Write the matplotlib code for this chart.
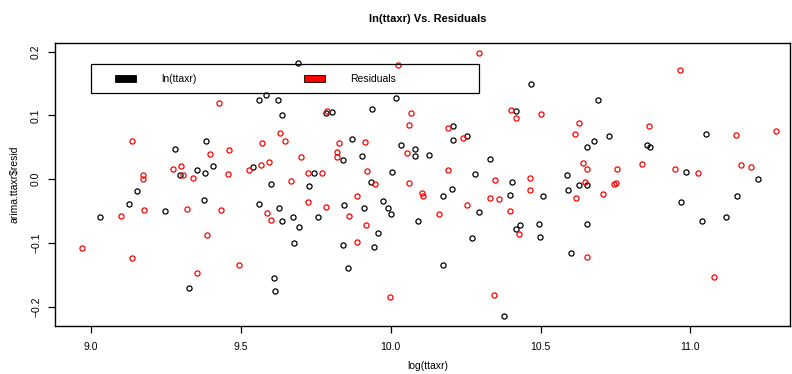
import matplotlib
matplotlib.use("Agg")
import matplotlib.pyplot as plt
from matplotlib.patches import Rectangle

plt.rcParams['font.family'] = ['Liberation Sans', 'DejaVu Sans']

title = "ln(ttaxr) Vs. Residuals"
xlabel = "log(ttaxr)"
ylabel = "arima.ttaxr$resid"
legend_labels = ["ln(ttaxr)", "Residuals"]
xticks = [9.0, 9.5, 10.0, 10.5, 11.0]
yticks = [-0.2, -0.1, 0.0, 0.1, 0.2]

black_x = [9.280, 9.384, 9.298, 9.355, 9.380, 9.153, 9.127, 9.031, 9.247, 9.378,
           9.326, 9.690, 9.560, 9.585, 9.625, 9.638, 9.785, 9.805, 9.872, 9.840,
           9.904, 9.406, 9.540, 9.602, 9.745, 9.727, 9.562, 9.627, 9.636, 9.675,
           9.695, 9.756, 9.843, 9.677, 9.842, 9.858, 9.612, 9.615, 10.016, 9.939,
           10.208, 10.255, 10.208, 10.033, 10.081, 10.082, 10.127, 10.003, 9.933, 10.332,
           10.282, 10.205, 10.176, 10.397, 10.296, 9.973, 9.990, 9.911, 10.002, 10.090,
           9.959, 9.944, 10.270, 10.175, 10.377, 10.468, 10.693, 10.417, 10.679, 10.727,
           10.656, 10.856, 10.864, 10.587, 10.406, 10.507, 10.593, 10.627, 10.654, 10.432,
           10.417, 10.494, 10.497, 10.656, 10.602, 11.051, 10.985, 11.226, 11.155, 10.967,
           11.117, 11.038]
black_y = [0.048, 0.0605, 0.0072, 0.014, 0.010, -0.018, -0.038, -0.059, -0.0497, -0.032,
           -0.170, 0.183, 0.125, 0.132, 0.125, 0.100, 0.1034, 0.106, 0.0636, 0.031,
           0.0365, 0.0213, 0.0198, -0.0069, 0.0094, -0.0105, -0.039, -0.0445, -0.0648, -0.059,
           -0.075, -0.0596, -0.040, -0.0998, -0.1025, -0.1395, -0.154, -0.175, 0.1274, 0.1107,
           0.084, 0.068, 0.062, 0.0538, 0.047, 0.036, 0.038, 0.011, -0.0037, 0.0318,
           0.0078, -0.0147, -0.026, -0.024, -0.051, -0.0345, -0.045, -0.045, -0.055, -0.065,
           -0.0837, -0.1056, -0.0915, -0.134, -0.2147, 0.149, 0.125, 0.107, 0.060, 0.0683,
           0.050, 0.054, 0.050, 0.0072, -0.0047, -0.0257, -0.0168, -0.0085, -0.0085, -0.071,
           -0.078, -0.070, -0.090, -0.070, -0.115, 0.0705, 0.011, 0.0005, -0.0257, -0.0356,
           -0.0586, -0.066]

red_x = [9.136, 9.398, 9.274, 9.301, 9.308, 9.341, 9.172, 9.175, 9.099, 9.178,
         9.319, 9.388, 8.971, 9.138, 9.354, 9.427, 9.789, 9.632, 9.646, 9.570,
         9.460, 9.827, 9.821, 9.821, 9.702, 9.457, 9.528, 9.568, 9.595, 9.668,
         9.725, 9.770, 9.889, 9.433, 9.586, 9.602, 9.725, 9.783, 9.862, 9.887,
         9.493, 10.294, 10.025, 10.066, 10.060, 10.190, 10.240, 10.401, 9.915, 10.054,
         9.920, 9.947, 10.061, 10.192, 10.348, 10.105, 10.108, 10.330, 10.360, 10.256,
         10.398, 10.161, 9.918, 9.999, 10.344, 10.417, 10.502, 10.627, 10.615, 10.863,
         10.643, 10.654, 10.754, 10.837, 10.465, 10.466, 10.647, 10.744, 10.752, 10.617,
         10.708, 10.428, 10.654, 10.964, 11.151, 11.285, 10.947, 11.024, 11.167, 11.201,
         11.078]
red_y = [0.0605, 0.040, 0.0157, 0.021, 0.0067, 0.0015, 0.006, 0.000, -0.057, -0.048,
         -0.046, -0.088, -0.107, -0.123, -0.147, 0.120, 0.1075, 0.0726, 0.060, 0.0564,
         0.0455, 0.0574, 0.0433, 0.0345, 0.0345, 0.0088, 0.0146, 0.0224, 0.0266, -0.0027,
         0.0094, 0.0094, -0.0257, -0.0486, -0.0533, -0.0638, -0.035, -0.043, -0.057, -0.0988,
         -0.134, 0.1975, 0.1796, 0.104, 0.0846, 0.080, 0.0647, 0.1086, 0.059, 0.041,
         0.0135, -0.007, -0.0063, 0.0146, -0.0006, -0.021, -0.0257, -0.030, -0.031, -0.041,
         -0.0497, -0.054, -0.0716, -0.185, -0.182, 0.0955, 0.102, 0.088, 0.0705, 0.083,
         0.026, 0.0157, 0.0166, 0.0245, 0.0016, -0.0172, -0.0047, -0.0074, -0.0053, -0.030,
         -0.0235, -0.0857, -0.1223, 0.171, 0.069, 0.076, 0.016, 0.010, 0.0224, 0.0197,
         -0.1527]

W, H = 792, 374
fig = plt.figure(figsize=(W / 100, H / 100), dpi=100)
L, R, T, B = 55, 790, 42.5, 326
ax = fig.add_axes([L / W, 1 - B / H, (R - L) / W, (B - T) / H])

ms = 3.7
ax.plot(black_x, black_y, linestyle='none', marker='o', ms=ms, mfc='none',
        mec='black', mew=0.9)
ax.plot(red_x, red_y, linestyle='none', marker='o', ms=ms, mfc='none',
        mec='#ff0000', mew=0.9)

ax.set_xlim(8.880, 11.332)
ax.set_ylim(-0.2299, 0.2144)
ax.set_xticks(xticks)
ax.set_xticklabels([f"{v:.1f}" for v in xticks])
ax.set_yticks(yticks)
ax.set_yticklabels([f"{v:.1f}".replace('-', '\u2212') for v in yticks])
ax.tick_params(axis='both', length=5, width=0.9, labelsize=7.5, pad=6.5, color='black')
ax.tick_params(axis='y', labelrotation=90, pad=5)
for lab in ax.get_yticklabels():
    lab.set_va('center')
for s in ax.spines.values():
    s.set_color('black')
    s.set_linewidth(1.0)

cx = 428
fig.text(cx / W, 1 - 19 / H, title, ha='center', va='center',
         fontsize=8, fontweight='bold')
fig.text(cx / W, 1 - 366 / H, xlabel, ha='center', va='center', fontsize=7.5)
fig.text(15 / W, 1 - ((T + B) / 2) / H, ylabel, ha='center', va='center',
         rotation=90, fontsize=7.5)

# legend box (pixel coordinates)
def px(x, y):
    return x / W, 1 - y / H

lx0, ly0 = px(91, 93)
fig.patches.append(Rectangle((lx0, ly0), (479 - 91) / W, (93 - 64) / H,
                             transform=fig.transFigure, fill=False,
                             edgecolor='black', linewidth=0.9))
for (rx, tx, col, lab) in [(115, 161, 'black', legend_labels[0]),
                           (304, 350, '#ff0000', legend_labels[1])]:
    bx, by = px(rx, 82)
    fig.patches.append(Rectangle((bx, by), 21 / W, 7 / H, transform=fig.transFigure,
                                 facecolor=col, edgecolor='black', linewidth=0.6))
    tx_, ty_ = px(tx, 78.5)
    fig.text(tx_, ty_, lab, ha='left', va='center', fontsize=7.5)

fig.savefig("out.png", dpi=100)
